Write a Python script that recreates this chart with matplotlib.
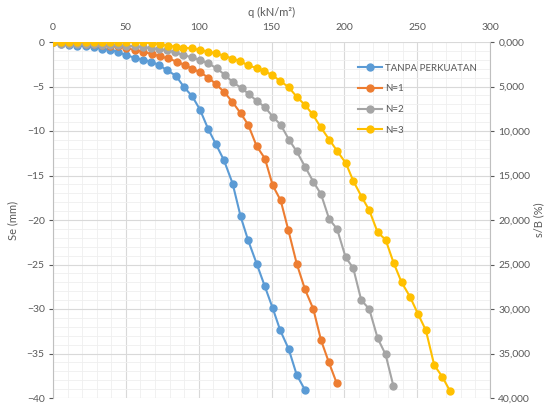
import matplotlib
matplotlib.use("Agg")
import matplotlib.pyplot as plt
from matplotlib.ticker import MultipleLocator, FuncFormatter

plt.rcParams['font.family'] = ['Lato', 'DejaVu Sans']

# ---- data ----
q_tanpa = [0, 5.6, 11.2, 16.8, 22.4, 28, 33.6, 39.2, 44.8, 50.4, 56, 61.6, 67.4, 72.8, 78.6,
           84.4, 90.1, 95.6, 100.9, 106.6, 111.9, 117.4, 123.3, 128.8, 134, 139.8, 145.3,
           150.8, 156, 161.8, 167.3, 173]
se_tanpa = [0, -0.2, -0.3, -0.4, -0.5, -0.6, -0.75, -0.9, -1.1, -1.5, -1.75, -2.0, -2.2, -2.6,
            -3.2, -3.8, -5.1, -6.1, -7.6, -9.8, -11.5, -13.3, -15.9, -19.6, -22.3, -24.9, -27.4,
            -29.9, -32.4, -34.5, -37.4, -39.1]

q_n1 = [0, 5.6, 11.2, 16.8, 22.4, 28, 33.6, 39.2, 44.8, 50.4, 56.3, 62, 67.7, 73.4, 79.1, 84.9,
        90.6, 95.6, 100.9, 106.6, 111.9, 117.4, 123, 128.8, 134, 139.8, 145.5, 150.8, 156.3,
        161.5, 167.3, 173, 178.7, 184, 189.4, 194.7]
se_n1 = [0, -0.05, -0.1, -0.15, -0.2, -0.25, -0.3, -0.4, -0.5, -0.7, -0.9, -1.1, -1.35, -1.6,
         -1.85, -2.2, -2.6, -3.0, -3.4, -4.0, -4.75, -5.6, -6.7, -8.0, -9.3, -11.7, -13.1,
         -16.1, -17.8, -21.1, -24.9, -27.8, -30.0, -33.5, -36.0, -38.3]

q_n2 = [0, 5.6, 11.2, 16.8, 22.4, 28, 33.6, 39.2, 44.8, 50.4, 56, 61.6, 67.2, 72.8, 78, 83.7,
        89.4, 95.2, 100.9, 106.6, 112.4, 118, 123.3, 129.5, 134.7, 139.9, 145.2, 150.9, 156.4,
        162.1, 167.3, 173, 178.7, 184, 189.6, 195, 200.9, 206.1, 211.6, 217.1, 222.9, 228.3,
        233.6]
se_n2 = [0, -0.2, -0.22, -0.24, -0.26, -0.28, -0.3, -0.32, -0.35, -0.4, -0.48, -0.58, -0.7,
         -0.82, -0.95, -1.15, -1.46, -1.72, -2.02, -2.4, -2.96, -3.7, -4.5, -5.2, -5.88, -6.63,
         -7.27, -8.39, -9.33, -11.0, -12.3, -14.0, -15.7, -17.1, -19.9, -21.0, -24.2, -25.4,
         -29.0, -30.0, -33.3, -35.1, -38.6]

q_n3 = [0, 5.6, 11.2, 16.8, 22.4, 28, 33.6, 39.2, 44.8, 50.4, 56, 62, 67.7, 73.4, 79.1, 84.2,
        89.4, 95.2, 100.9, 106.6, 111.9, 117.4, 123.2, 128.6, 134, 139.8, 145, 150.6, 156,
        161.8, 167.3, 173, 178.2, 183.7, 189.6, 195.1, 201.1, 206.1, 211.9, 217.1, 222.9,
        228.3, 233.8, 239.3, 245, 250.7, 256, 261.7, 267.2, 272.5]
se_n3 = [0, 0, 0, 0, 0, 0, 0, 0, 0, 0, 0, -0.03, -0.15, -0.26, -0.42, -0.53, -0.64, -0.71,
         -0.9, -1.09, -1.27, -1.54, -1.87, -2.16, -2.64, -2.92, -3.24, -3.74, -4.38, -5.08,
         -6.15, -7.08, -8.12, -9.55, -10.96, -12.25, -13.63, -15.6, -17.4, -18.9, -21.4,
         -22.2, -24.8, -27.0, -28.6, -30.6, -32.4, -36.3, -37.6, -39.2]

series_labels = ["TANPA PERKUATAN", "N=1", "N=2", "N=3"]
series_colors = ["#5B9BD5", "#ED7D31", "#A5A5A5", "#FFC000"]
right_ticks = [0, 5, 10, 15, 20, 25, 30, 35, 40]

# ---- figure ----
fig = plt.figure(figsize=(5.49, 4.08), dpi=100)
ax = fig.add_axes([53/549, 1-398/408, 437/549, 356/408])

txt = "#595959"
for q, se, lab, col in zip([q_tanpa, q_n1, q_n2, q_n3], [se_tanpa, se_n1, se_n2, se_n3],
                           series_labels, series_colors):
    ax.plot(q, se, color=col, lw=1.5, marker='o', markersize=5, label=lab, zorder=3)

ax.set_xlim(0, 300)
ax.set_ylim(-40, 0)
ax.xaxis.set_major_locator(MultipleLocator(50))
ax.xaxis.set_minor_locator(MultipleLocator(10))
ax.yaxis.set_major_locator(MultipleLocator(5))
ax.yaxis.set_minor_locator(MultipleLocator(1))
ax.grid(which='major', color='#d9d9d9', lw=0.8)
ax.grid(which='minor', color='#efefef', lw=0.6)
ax.set_axisbelow(True)

ax.xaxis.tick_top()
ax.xaxis.set_label_position('top')
ax.tick_params(axis='x', which='both', length=0, labelsize=7.5, colors=txt, pad=7)
ax.tick_params(axis='y', which='major', length=3, labelsize=7.5, colors=txt, pad=3)
ax.tick_params(axis='y', which='minor', length=0)
ax.set_xlabel("q (kN/m²)", fontsize=8, color=txt, labelpad=5)
ax.set_ylabel("Se (mm)", fontsize=8, color=txt, labelpad=6)

for s in ['top', 'right', 'bottom']:
    ax.spines[s].set_visible(False)
ax.spines['left'].set_color('#bfbfbf')

ax2 = ax.twinx()
ax2.set_ylim(40, 0)
ax2.set_yticks(right_ticks)
ax2.yaxis.set_major_formatter(FuncFormatter(lambda v, p: f"{v:.3f}".replace('.', ',')))
ax2.tick_params(axis='y', length=3, labelsize=7.5, colors=txt, pad=3)
ax2.set_ylabel("s/B (%)", fontsize=8, color=txt, labelpad=2)
for s in ['top', 'left', 'bottom']:
    ax2.spines[s].set_visible(False)
ax2.spines['right'].set_color('#bfbfbf')

leg = ax.legend(loc='upper left', bbox_to_anchor=(0.69, 0.95), frameon=False,
                fontsize=7, labelspacing=1.2, handlelength=2.4, handletextpad=0.3,
                borderaxespad=0)
for t in leg.get_texts():
    t.set_color(txt)

fig.savefig("out.png", dpi=100)
